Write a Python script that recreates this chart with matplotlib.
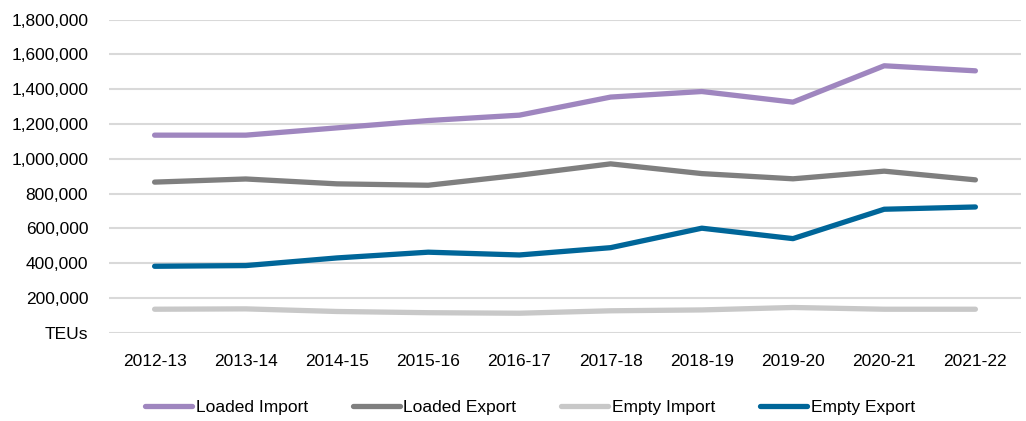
import matplotlib
matplotlib.use("Agg")
import matplotlib.pyplot as plt
from matplotlib.ticker import FuncFormatter

years = ["2012-13", "2013-14", "2014-15", "2015-16", "2016-17",
         "2017-18", "2018-19", "2019-20", "2020-21", "2021-22"]
loaded_import = [1136000, 1136000, 1178000, 1220000, 1251000,
                 1355000, 1387000, 1326000, 1535000, 1506000]
loaded_export = [866000, 884000, 856000, 848000, 906000,
                 971000, 915000, 885000, 929000, 879000]
empty_import = [135000, 137000, 122000, 115000, 112000,
                126000, 131000, 145000, 135000, 135000]
empty_export = [382000, 386000, 430000, 463000, 447000,
                489000, 601000, 541000, 710000, 723000]
series_names = ["Loaded Import", "Loaded Export", "Empty Import", "Empty Export"]
colors = ["#9F86BF", "#7F7F7F", "#C8C8C8", "#006699"]

plt.rcParams["font.family"] = ["Liberation Sans", "DejaVu Sans"]

fig = plt.figure(figsize=(10.26, 4.21), dpi=100)
ax = fig.add_axes([109/1026, (421-332.7)/421, (1021-109)/1026, (332.7-19.7)/421])

x = list(range(len(years)))
for name, vals, c in zip(series_names,
                         [loaded_import, loaded_export, empty_import, empty_export],
                         colors):
    ax.plot(x, vals, color=c, lw=3.8, solid_capstyle="round",
            solid_joinstyle="round", label=name, zorder=3)

ax.set_xlim(-0.5, len(years) - 0.5)
ax.set_ylim(0, 1800000)
ax.set_yticks(range(0, 1800001, 200000))
ax.yaxis.set_major_formatter(FuncFormatter(lambda v, p: "TEUs" if v == 0 else f"{int(v):,}"))
ax.set_xticks(x)
ax.set_xticklabels(years)
ax.grid(axis="y", color="#D9D9D9", lw=1.5, zorder=0)
ax.set_axisbelow(True)
for s in ax.spines.values():
    s.set_visible(False)
ax.tick_params(axis="both", length=0, labelsize=12.5, colors="#000000")
ax.tick_params(axis="y", pad=15)
ax.tick_params(axis="x", pad=15)

leg = fig.legend(loc="center", bbox_to_anchor=(530/1026, (421-407)/421), ncol=4,
                 frameon=False, fontsize=12.5, handlelength=2.7, handletextpad=0.2,
                 columnspacing=2.6)

fig.savefig("out.png", dpi=100)
